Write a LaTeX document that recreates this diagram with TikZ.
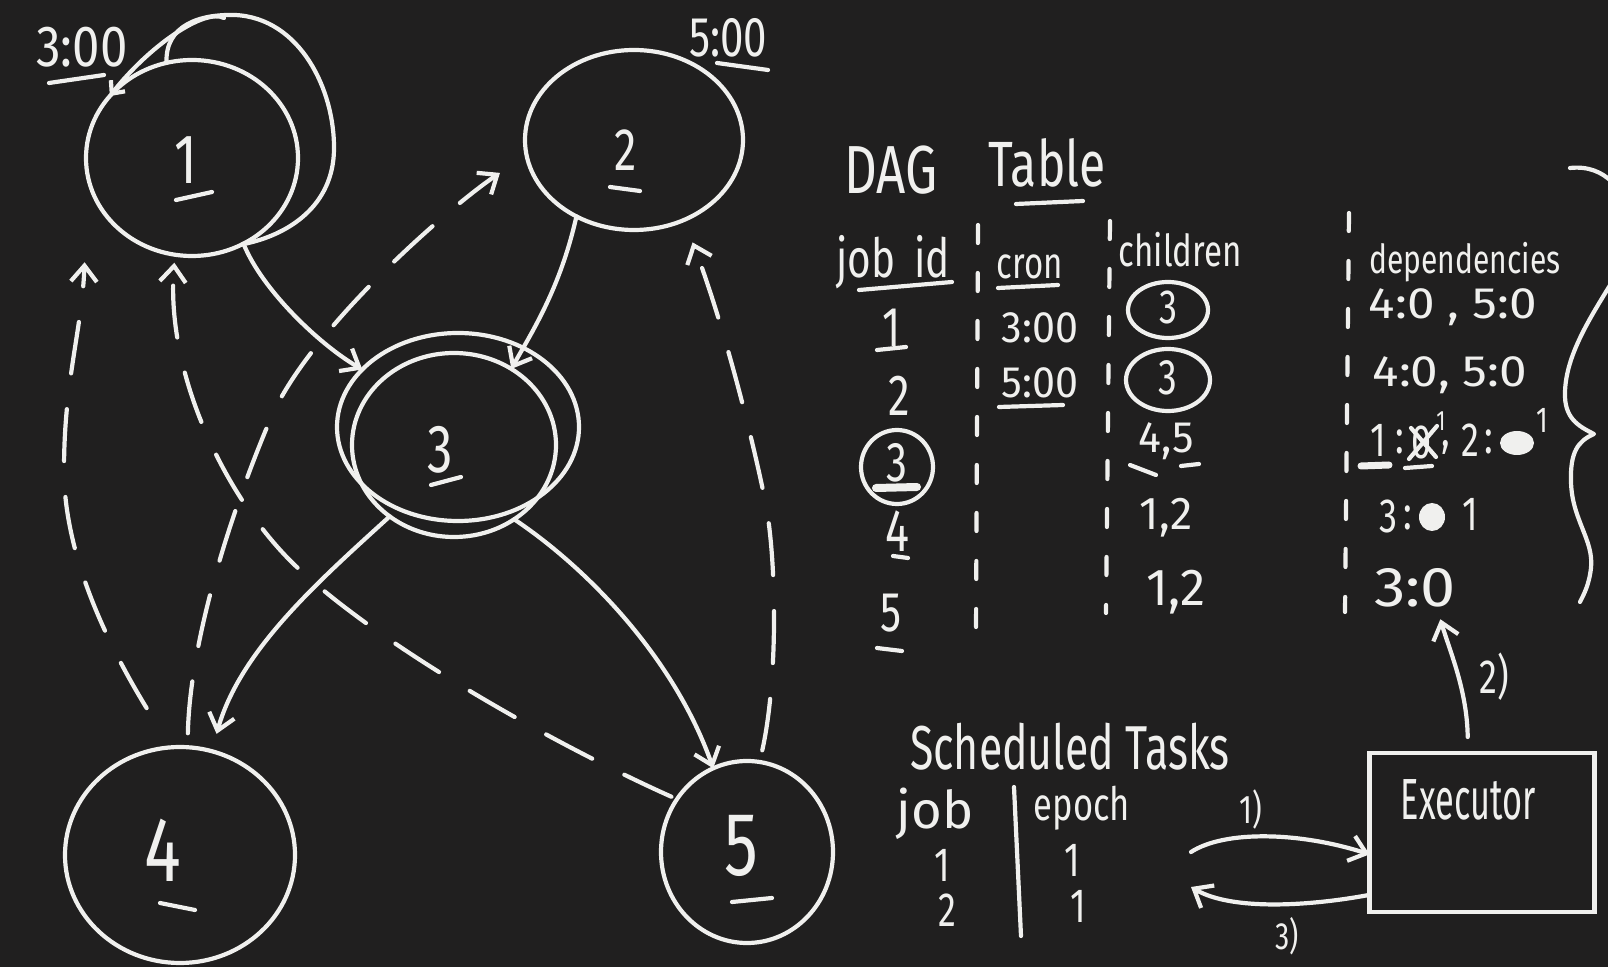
\documentclass[tikz,border=0pt]{standalone}
\usepackage{fontspec}
\setmainfont{Fira Sans}[FakeStretch=0.75]
\usetikzlibrary{arrows.meta,shapes.geometric}
\definecolor{bg}{RGB}{32,31,31}
\definecolor{ink}{RGB}{240,240,238}
\newcommand\fsz[1]{\fontsize{#1pt}{#1pt}\selectfont}
\newcommand\hsq[2]{\scalebox{#1}[1]{#2}}
\begin{document}
\begin{tikzpicture}[x=0.5pt,y=-0.5pt,
  pen/.style={draw=ink,line width=2.1pt,line cap=round,line join=round},
  bubble/.style={ellipse,draw=ink,line width=2.1pt,inner sep=0pt,outer sep=0pt},
  txt/.style={text=ink,inner sep=0pt,font=\fsz{#1}},
  tipend/.style={-{Straight Barb[length=8pt,width=13pt]}},
  arr/.style={pen,tipend},
  darr/.style={pen,tipend,dash pattern=on 26pt off 18pt},
  sepline/.style={pen,dash pattern=on 9pt off 15pt},
  boxnode/.style={rectangle,draw=ink,line width=2.1pt,inner sep=0pt,outer sep=0pt},
]
\useasboundingbox (0,0) rectangle (1608,967);
\fill[bg] (0,0) rectangle (1608,967);
\clip (0,0) rectangle (1608,967);

% ---------- graph nodes ----------
\node[bubble,minimum width=106pt,minimum height=98pt] (n1) at (192,158) {};
\node[bubble,minimum width=109pt,minimum height=90pt] (n2) at (634,140) {};
\node[bubble,minimum width=121pt,minimum height=94pt] (n3o) at (458,427) {};
\node[bubble,minimum width=102pt,minimum height=92pt] (n3) at (454,445) {};
\node[bubble,minimum width=115pt,minimum height=108pt] (n4) at (180,855) {};
\node[bubble,minimum width=86pt,minimum height=91pt] (n5) at (747,852) {};

\node[txt=35] (l1) at (186,160) {1};
\node[txt=30] (l2) at (626,150) {2};
\node[txt=34] (l3) at (440,450) {3};
\node[txt=46] (l4) at (163,850) {4};
\node[txt=45] (l5) at (741,846) {5};
\draw[pen] (176,200) -- (212,192);
\draw[pen] (610,187) -- (640,191);
\draw[pen] (431,485) -- (461,477);
\draw[pen] (160,903) -- (195,910);
\draw[pen] (732,902) -- (772,898);

% cron labels
\node[txt=29] (t300) at (82,47) {\hsq{1.13}{3:00}};
\draw[pen] (49,83) -- (104,75);
\node[txt=28] (t500) at (728,38) {5:00};
\draw[pen] (717,63) -- (768,70);

% self loop on node 1
\coordinate (loopa) at (224,18);
\draw[pen] (n1.105) .. controls (165,25) and (200,14) .. (235,15)
  .. controls (300,18) and (335,90) .. (334,150)
  .. controls (333,205) and (290,235) .. (n1.-60);
\draw[pen,-{Straight Barb[length=5pt,width=9pt]}] (loopa) .. controls (205,8) and (150,45) .. (n1.143);

% solid edges
\draw[arr] (n1.-59) .. controls (262,290) and (320,345) .. (n3o.149);
\draw[arr] (n2.233) .. controls (560,290) and (530,335) .. (n3.53);
\draw[arr,shorten >=9pt] (n3.228) .. controls (320,580) and (240,650) .. (n4.73);
\draw[arr] (n3.-51) .. controls (590,570) and (675,660) .. (n5.112);

% dashed edges
\draw[darr,shorten <=3pt,shorten >=4pt] (n5.143) .. controls (558,746) and (388,651) .. (300,570)
  .. controls (232,508) and (165,380) .. (n1.260);
\draw[darr,shorten <=23pt,shorten >=43pt] (n4.95) .. controls (113,653) and (64,560) .. (64,470)
  .. controls (64,380) and (82,330) .. (n1.190);
\draw[darr,shorten <=7pt,shorten >=16pt] (n4.86) .. controls (190,640) and (231,512) .. (270,420)
  .. controls (309,328) and (452,205) .. (n2.188);
\draw[darr,shorten <=6pt,shorten >=12pt] (n5.82) .. controls (778,680) and (777,559) .. (765,500)
  .. controls (749,422) and (720,314) .. (n2.302);

% ---------- DAG table ----------
\node[txt=34] (tdag) at (891,170) {DAG};
\node[txt=32] (ttab) at (1047,163) {Table};
\draw[pen] (1016,204) -- (1083,201);

\node[txt=27] (hjob) at (893,262) {job\hspace{0.35em}id};
\draw[pen] (859,290) -- (952,282);
\node[txt=22] (hcron) at (1030,267) {cron};
\draw[pen] (998,288) -- (1058,285);
\node[txt=22] (hchild) at (1180,250) {children};
\node[txt=20] (hdep) at (1465,262) {dependencies};

\draw[sepline] (978,225) -- (976,633);
\draw[sepline] (1110,221) -- (1106,613);
\draw[sepline] (1349,213) -- (1345,612);

% job id column
\node[txt=28] (j1) at (892,328) {1};
\draw[pen] (877,350) -- (906,347);
\node[txt=29] (j2) at (899,396) {2};
\node[txt=28] (j3) at (897,463) {3};
\node[bubble,minimum width=36pt,minimum height=37pt] (j3c) at (897,467) {};
\draw[pen,line width=4pt] (876,488) -- (917,487);
\node[txt=30] (j4) at (897,531) {4};
\draw[pen] (893,556) -- (908,558);
\node[txt=28] (j5) at (891,613) {5};
\draw[pen] (877,648) -- (902,651);

% cron column
\node[txt=22] (c1) at (1040,328) {\hsq{1.25}{3:00}};
\node[txt=22] (c2) at (1040,383) {\hsq{1.25}{5:00}};
\draw[pen] (999,407) -- (1063,405);

% children column
\node[txt=24] (ch1) at (1168,307) {3};
\node[bubble,minimum width=40pt,minimum height=28pt] (ch1c) at (1168,310) {};
\node[txt=25] (ch2) at (1168,378) {3};
\node[bubble,minimum width=42pt,minimum height=31pt] (ch2c) at (1168,380) {};
\node[txt=22] (ch3) at (1166,441) {\hsq{1.3}{4,5}};
\draw[pen] (1130,465) -- (1156,475);
\draw[pen] (1181,466) -- (1199,464);
\node[txt=23] (ch4) at (1166,518) {\hsq{1.3}{1,2}};
\node[txt=26] (ch5) at (1176,592) {\hsq{1.3}{1,2}};

% dependencies column
\node[txt=22] (d1) at (1453,307) {\hsq{1.5}{4:0 , 5:0}};
\node[txt=22] (d2) at (1450,375) {\hsq{1.5}{4:0, 5:0}};
\node[txt=24] (d3a) at (1378,440) {1};
\node[txt=24] (d3b) at (1400,442) {:};
\node[txt=24] (d3c) at (1422,442) {0};
\draw[pen] (1409,459) -- (1437,426);
\draw[pen] (1411,428) -- (1436,457);
\node[txt=14] (d3d) at (1441,421) {1};
\node[txt=24] (d3e) at (1446,447) {,};
\node[txt=24] (d3f) at (1470,440) {2};
\node[txt=24] (d3g) at (1489,442) {:};
\fill[ink] (1517,443) ellipse [x radius=8.5pt, y radius=6pt];
\node[txt=18] (d3h) at (1542,420) {1};
\draw[pen,line width=3.5pt] (1361,466) -- (1389,465);
\draw[pen] (1405,468) -- (1432,466);
\node[txt=24] (d4a) at (1388,516) {3};
\node[txt=24] (d4b) at (1408,518) {:};
\fill[ink] (1432,517) ellipse [x radius=6.5pt, y radius=7pt];
\node[txt=24] (d4c) at (1470,514) {1};
\node[txt=28] (d5) at (1415,588) {\hsq{1.5}{3:0}};

% brace and partial arc at the right edge
\draw[pen] (1570,168) .. controls (1588,166) and (1602,172) .. (1612,182);
\draw[pen] (1612,282) .. controls (1590,318) and (1566,355) .. (1565,392)
  .. controls (1564,418) and (1578,426) .. (1594,434)
  .. controls (1578,441) and (1570,452) .. (1571,482)
  .. controls (1572,520) and (1594,540) .. (1591,568)
  .. controls (1589,585) and (1584,594) .. (1580,602);

% ---------- Scheduled tasks ----------
\node[txt=31] (st) at (1070,747) {\hsq{0.92}{Scheduled Tasks}};
\node[txt=26] (sj) at (935,814) {\hsq{1.35}{job}};
\draw[pen] (1014,787) -- (1021,936);
\node[txt=23] (se) at (1082,808) {epoch};
\node[txt=24] (s11) at (942,865) {1};
\node[txt=24] (s21) at (947,910) {2};
\node[txt=24] (s12) at (1072,860) {1};
\node[txt=24] (s22) at (1078,906) {1};

% executor
\node[boxnode,minimum width=112.5pt,minimum height=79.5pt] (ex) at (1482,832.5) {};
\node[txt=29] (ext) at (1468,800) {\hsq{0.79}{Executor}};

\coordinate (s1) at (1191,852);
\coordinate (e3) at (1191,887);
\draw[arr] (s1) .. controls (1225,830) and (1300,832) .. (ex.191);
\draw[arr] (ex.209) .. controls (1310,906) and (1232,911) .. (e3);
\draw[arr,shorten <=8pt,shorten >=6pt] (ex.100) .. controls (1467,690) and (1450,652) .. (d5.-42);

\node[txt=20] (lab1) at (1251,810) {1)};
\node[txt=24] (lab2) at (1494,677) {2)};
\node[txt=19] (lab3) at (1287,936) {3)};
\end{tikzpicture}
\end{document}
